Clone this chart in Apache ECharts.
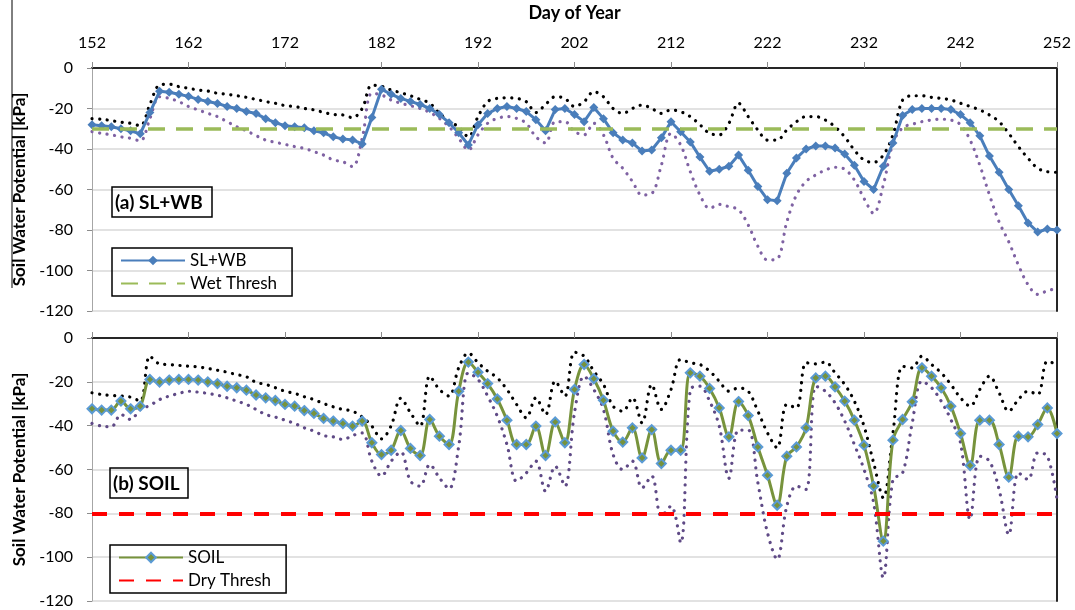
<!DOCTYPE html>
<html>
<head>
<meta charset="utf-8">
<script src="https://cdn.jsdelivr.net/npm/echarts@6/dist/echarts.min.js"></script>
<style>
html,body{margin:0;padding:0;background:#fff;}
#chart{width:1075px;height:610px;}
</style>
</head>
<body>
<div id="chart"></div>
<script>
// ---- data ----
const days = [152,153,154,155,156,157,158,159,160,161,
  162,163,164,165,166,167,168,169,170,171,
  172,173,174,175,176,177,178,179,180,181,
  182,183,184,185,186,187,188,189,190,191,
  192,193,194,195,196,197,198,199,200,201,
  202,203,204,205,206,207,208,209,210,211,
  212,213,214,215,216,217,218,219,220,221,
  222,223,224,225,226,227,228,229,230,231,
  232,233,234,235,236,237,238,239,240,241,
  242,243,244,245,246,247,248,249,250,251,
  252];

// (a) SL+WB panel
const slwb = [-28,-28.5,-29,-30,-31,-32.5,-22,-11.5,-12,-13,
  -14,-15.5,-16.5,-17.5,-19,-20,-21.5,-22.5,-25,-27,
  -28.5,-29,-29.5,-31,-32,-34,-35,-35.5,-37.5,-24.5,
  -10.5,-13,-15,-16.5,-18,-20,-23,-27,-32,-38,
  -28,-22.5,-20,-19,-20,-21.5,-25.5,-31,-20.5,-20,
  -23,-26.5,-19.5,-25,-32,-35.5,-37,-41,-40.5,-34.5,
  -26.5,-31.5,-36.5,-44,-51,-50,-48.5,-43,-50.5,-58.5,
  -65,-65.5,-52,-44.5,-40,-38.5,-38.5,-39.5,-42.5,-48,
  -56,-60,-48.5,-37,-23.5,-20.5,-20,-20,-20,-20.5,
  -23,-27,-33.5,-43.5,-51.5,-60,-68,-76.5,-81,-79.5,
  -80];
const slwbUpper = [-25,-25.3,-26,-26.8,-27.3,-28.5,-18,-8.4,-8,-9.2,
  -10,-10.9,-11.4,-12.5,-13,-13.7,-14.5,-15.5,-16.6,-17.4,
  -18.6,-19,-20,-20.7,-21.9,-22.9,-23.2,-24.5,-20,-8.5,
  -9,-10.9,-12.2,-13.7,-15.5,-17.4,-22.4,-26.5,-29,-34,
  -24,-16.6,-15,-14.7,-15,-16.6,-22,-18,-14.2,-15,
  -19,-16.6,-11.7,-14.2,-20,-22.4,-20,-18.3,-20,-22.4,
  -20.7,-21.6,-24,-28,-32.3,-33,-27.3,-17.4,-24,-30.6,
  -35.6,-35.6,-30.6,-26.5,-24,-24,-25.7,-29,-34,-40.5,
  -45.4,-46.6,-43,-33,-15.8,-13.7,-13.7,-14.5,-15,-15.8,
  -17.4,-19,-20.7,-23.2,-26.5,-32.3,-38.8,-44.6,-49.5,-51.2,
  -51.5];
const slwbLower = [-31.4,-32.3,-33,-34,-34.7,-36,-25,-14.2,-15,-16.6,
  -19,-20.7,-22.4,-24,-26.5,-29,-31,-33.4,-35.6,-36.7,
  -37.7,-38.8,-39.7,-41.3,-43,-45.4,-46.3,-48.7,-34.7,-12.5,
  -13.3,-15.8,-17.4,-18.6,-20,-21.9,-24.9,-29,-34.7,-40.5,
  -33,-27.3,-24.9,-24,-24.9,-27.3,-34,-37,-26.5,-26.5,
  -31.4,-33,-27.3,-33,-44.6,-49.5,-56,-62.7,-62,-48,
  -32.3,-38,-51.2,-62.7,-69.3,-67.3,-68.5,-70,-77.5,-88,
  -94.8,-94.3,-76,-62.7,-56,-52.8,-50.4,-49,-50,-55.3,
  -64.4,-71.8,-57.8,-37.2,-29.5,-27.8,-26.5,-25.7,-25.3,-25.7,
  -28,-35.6,-48,-62.7,-76,-85.8,-97.3,-107,-111.8,-110,
  -108.8];
const wetThresh = -30;

// (b) SOIL panel
const soil = [-32.3,-32.9,-32.9,-28.8,-32.3,-31.1,-18.9,-20.1,-19.2,-18.9,
  -18.9,-19.2,-20,-20.8,-22,-22.7,-23.8,-26,-27.3,-28.5,
  -30.3,-31.1,-33.1,-34.4,-36.7,-37.9,-39,-40.2,-37.9,-47.8,
  -53.2,-51.2,-42.2,-50.4,-53.6,-37.2,-44.8,-48.6,-24.3,-11,
  -15.6,-20.8,-27.8,-37.5,-48.6,-48.6,-40.2,-53.6,-38.3,-47.8,
  -23.5,-12.1,-18.6,-28.4,-42.5,-47.5,-41,-54.7,-41.8,-57.3,
  -51.2,-51.2,-15.9,-17.4,-23,-31.9,-45.1,-29,-35.4,-49.7,
  -62.6,-76.3,-53.9,-49.7,-41,-18.2,-17.4,-22.3,-28.8,-37.5,
  -48.9,-67.6,-92.7,-46.6,-37.2,-29.1,-13.6,-17.4,-22.7,-31.1,
  -43.6,-58.2,-37.5,-37.5,-48.6,-63.5,-44.8,-45.1,-39.5,-31.9,
  -43.6];
const soilUpper = [-25,-25.8,-26.2,-26.5,-27,-28.8,-8.3,-11.8,-12.1,-12.5,
  -12.9,-13.2,-13.9,-14.7,-15.6,-16.7,-17.7,-20.2,-21.2,-22.7,
  -24.3,-25.3,-26.8,-28.1,-29.9,-31.4,-32.6,-33.4,-36,-40.2,
  -46,-40,-27.5,-34.1,-40.2,-17.4,-23.5,-26.5,-13.6,-6.8,
  -11.3,-15.1,-18.2,-23.5,-30.3,-36.4,-27.3,-34.9,-19.7,-26.5,
  -6.5,-8.3,-15.1,-21.2,-31.1,-33.4,-27.3,-38.7,-21.2,-32.6,
  -23.5,-9.8,-11.3,-12.1,-15.1,-19.7,-24.3,-22.8,-24.3,-33.4,
  -43.3,-50.1,-30.3,-31.9,-11.3,-11.8,-11,-15.9,-21.2,-28.8,
  -40.2,-57,-72.9,-43.3,-12.9,-13.6,-8.3,-12.1,-15.9,-21.2,
  -27.3,-31.1,-23.5,-17.4,-25,-33.4,-28.1,-24.3,-25.8,-10.6,
  -12.1];
const soilLower = [-39,-40.2,-40.5,-34.9,-37.2,-32.6,-30.8,-28.1,-26.5,-25.3,
  -24.3,-24.7,-25.3,-26.1,-27.3,-28.8,-30.3,-32.6,-34.9,-36.1,
  -37.5,-39,-41,-42.5,-44.5,-45.1,-46.3,-44.5,-43.3,-56.2,
  -63,-56.2,-52,-65.3,-67.6,-57.7,-63.8,-68.8,-49.4,-15.9,
  -18.9,-26.5,-35.7,-48.6,-65.3,-61.6,-56.2,-69.9,-58.5,-67.6,
  -34.1,-17.4,-23.5,-32.6,-53.2,-60,-56.2,-68.4,-63,-81.3,
  -76.7,-93.5,-23.5,-22,-28.8,-40.2,-64,-42,-42,-66,
  -88.9,-101,-76.7,-67.6,-69.1,-22,-24.3,-29.6,-37.9,-48.6,
  -60,-75.2,-109.4,-64.6,-61.6,-38.7,-19.7,-22.7,-28.8,-37.2,
  -47.8,-82.8,-53.9,-56.2,-69.1,-89.7,-61.5,-64.6,-52.4,-53.9,
  -73.7];
const dryThresh = -80;

const yTicks = {min:-120, max:0, step:20};

// ---- chart ----
const FONT = 'Lato, "Liberation Sans", sans-serif';
const chart = echarts.init(document.getElementById('chart'), null, {renderer:'canvas'});

function xAx(grid, pos, labels, name){
  return {
    type:'category', gridIndex:grid, position:pos, data:days, boundaryGap:false,
    axisLine:{show:true, lineStyle:{color: pos==='top' ? '#a6a6a6' : '#262626', width: pos==='top'?1:2}},
    axisTick:{show: pos==='top', interval:9, length:6, lineStyle:{color:'#8c8c8c'}},
    axisLabel:{show:labels, interval:9, fontSize:16, color:'#000', margin:17, fontFamily:FONT},
    splitLine:{show:false},
    name: name || '', nameLocation:'middle', nameGap:46,
    nameTextStyle:{fontSize:18, fontWeight:'bold', color:'#000', fontFamily:FONT}
  };
}
function yAx(grid, pos){
  const left = pos==='left';
  return {
    type:'value', gridIndex:grid, position:pos, min:yTicks.min, max:yTicks.max, interval:yTicks.step,
    axisLine:{show:true, lineStyle:{color: left ? '#a6a6a6' : '#262626', width: left?1:2}},
    axisTick:{show:left, length:5, lineStyle:{color:'#8c8c8c'}},
    axisLabel:{show:left, fontSize:16, color:'#000', margin:19, fontFamily:FONT},
    splitLine:{show:left, lineStyle:{color:'#d9d9d9', width:1.5}},
    name: left ? 'Soil Water Potential [kPa]' : '',
    nameLocation:'middle', nameGap:64,
    nameTextStyle:{fontSize:17, fontWeight:'bold', color:'#000', fontFamily:FONT}
  };
}
const dotted = (color, data, xi, yi, name) => ({
  name, type:'line', xAxisIndex:xi, yAxisIndex:yi, data, smooth:0.35,
  showSymbol:false, symbol:'none', z:2,
  lineStyle:{color, width:3.2, type:[0.1,7.5], cap:'round'}
});
const legendText = {fontSize:17, color:'#000', fontFamily:FONT};
const titleText = {fontSize:19, fontWeight:'bold', color:'#000', fontFamily:FONT};

const option = {
  animation:false,
  textStyle:{fontFamily:FONT},
  title:[
    {text:'(a) SL+WB', left:112, top:187, padding:[6,9,5,3], borderColor:'#000', borderWidth:1.5, textStyle:titleText},
    {text:'(b) SOIL', left:110, top:468, padding:[6,9,5,3], borderColor:'#000', borderWidth:1.5, textStyle:titleText}
  ],
  legend:[
    {data:[{name:'SL+WB'},{name:'Wet Thresh', itemStyle:{opacity:0}}], orient:'vertical', left:112, top:248,
     borderColor:'#000', borderWidth:1.5, padding:[4,15,4,8], itemWidth:64, itemHeight:12, itemGap:6,
     selectedMode:false, textStyle:legendText},
    {data:[{name:'SOIL'},{name:'Dry Thresh', itemStyle:{opacity:0}}], orient:'vertical', left:110, top:545,
     borderColor:'#000', borderWidth:1.5, padding:[4,15,4,8], itemWidth:64, itemHeight:12, itemGap:6,
     selectedMode:false, textStyle:legendText}
  ],
  grid:[
    {left:92, top:68, width:965, height:243},
    {left:92, top:338, width:965, height:263}
  ],
  xAxis:[ xAx(0,'top',true,'Day of Year'), xAx(1,'top',false), xAx(0,'bottom',false), xAx(1,'bottom',false) ],
  yAxis:[ yAx(0,'left'), yAx(1,'left'), yAx(0,'right'), yAx(1,'right') ],
  graphic:[
    {type:'line', shape:{x1:12, y1:0, x2:12, y2:288}, style:{stroke:'#000', lineWidth:1}}
  ],
  series:[
    dotted('#000000', slwbUpper, 0, 0, 'SL+WB upper'),
    dotted('#7f62a3', slwbLower, 0, 0, 'SL+WB lower'),
    {name:'SL+WB', type:'line', xAxisIndex:0, yAxisIndex:0, data:slwb, z:4,
     symbol:'diamond', symbolSize:9, showSymbol:true, showAllSymbol:true,
     lineStyle:{color:'#4a7ebb', width:3}, itemStyle:{color:'#4a7ebb'}},
    {name:'Wet Thresh', type:'line', xAxisIndex:0, yAxisIndex:0, data:[], symbol:'none', z:3,
     lineStyle:{color:'#9bbb59', width:3.5, type:[17,11]}, itemStyle:{color:'#9bbb59'},
     markLine:{silent:true, symbol:'none', label:{show:false},
       lineStyle:{color:'#9bbb59', width:3.5, type:[17,11]}, data:[{yAxis:wetThresh}]}},
    dotted('#000000', soilUpper, 1, 1, 'SOIL upper'),
    dotted('#5f4a86', soilLower, 1, 1, 'SOIL lower'),
    {name:'SOIL', type:'line', xAxisIndex:1, yAxisIndex:1, data:soil, z:4, smooth:0.35,
     symbol:'diamond', symbolSize:9, showSymbol:true, showAllSymbol:true,
     lineStyle:{color:'#77933c', width:3}, itemStyle:{color:'#77933c', borderColor:'#5b9bd5', borderWidth:2}},
    {name:'Dry Thresh', type:'line', xAxisIndex:1, yAxisIndex:1, data:[], symbol:'none', z:3,
     lineStyle:{color:'#ff0000', width:4, type:[15,12]}, itemStyle:{color:'#ff0000'},
     markLine:{silent:true, symbol:'none', label:{show:false},
       lineStyle:{color:'#ff0000', width:4, type:[15,12]}, data:[{yAxis:dryThresh}]}}
  ]
};
chart.setOption(option);
</script>
</body>
</html>
